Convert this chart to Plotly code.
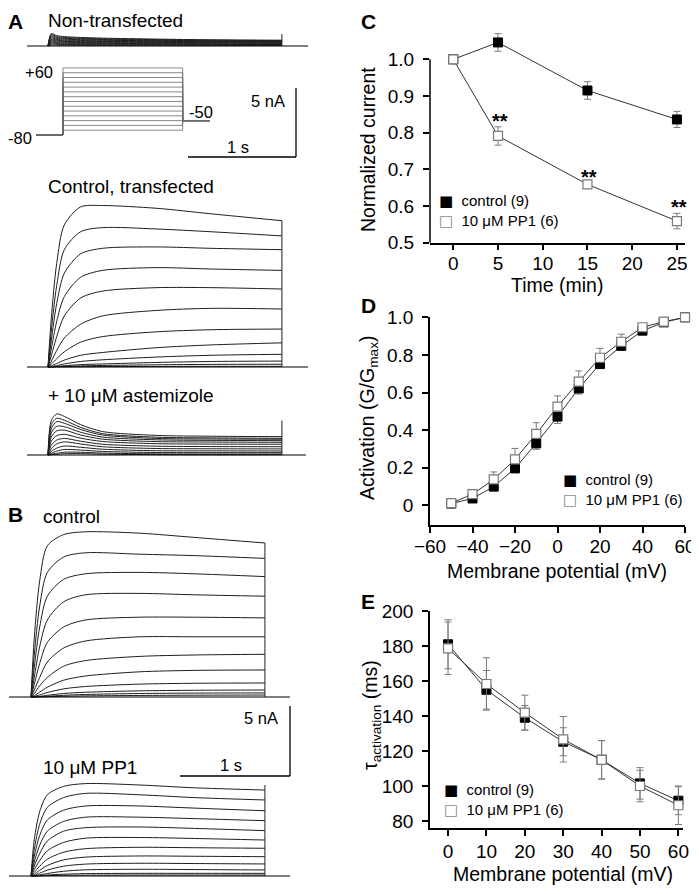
import plotly.graph_objects as go

# the page body adds an 8 px margin, so the figure is 8 px smaller than the
# window and every pixel position below is measured on the window
OFF = 8
W, H = 699 - OFF, 894 - OFF
FONT = "Liberation Sans, Arial, sans-serif"
GLYPH = "DejaVu Sans, sans-serif"

# ── Current traces (nA), sampled at the times of the depolarising step ────────
T_STEP = [0, 0.03, 0.08, 0.15, 0.3, 0.5, 1.0, 1.5, 2.15]

NONTRANSFECTED = [
    [0, 0.90, 0.75, 0.68, 0.62, 0.57, 0.50, 0.45, 0.42],
    [0, 0.82, 0.68, 0.62, 0.56, 0.52, 0.46, 0.42, 0.39],
    [0, 0.74, 0.61, 0.56, 0.51, 0.47, 0.42, 0.38, 0.36],
    [0, 0.66, 0.55, 0.50, 0.46, 0.42, 0.38, 0.35, 0.33],
    [0, 0.58, 0.48, 0.44, 0.40, 0.37, 0.34, 0.31, 0.29],
    [0, 0.50, 0.42, 0.38, 0.35, 0.33, 0.30, 0.28, 0.26],
    [0, 0.43, 0.36, 0.33, 0.30, 0.28, 0.26, 0.24, 0.22],
    [0, 0.36, 0.30, 0.27, 0.25, 0.23, 0.21, 0.20, 0.19],
    [0, 0.29, 0.24, 0.22, 0.20, 0.19, 0.17, 0.16, 0.15],
    [0, 0.22, 0.18, 0.16, 0.15, 0.14, 0.13, 0.12, 0.11],
    [0, 0.15, 0.12, 0.11, 0.10, 0.09, 0.09, 0.08, 0.08],
    [0, 0.08, 0.06, 0.06, 0.05, 0.05, 0.05, 0.04, 0.04],
]

CONTROL_A = [
    [0, 3.5, 7.5, 10.3, 11.6, 11.7, 11.5, 11.1, 10.6],
    [0, 2.6, 5.9, 8.5, 9.8, 10.1, 10.0, 9.8, 9.5],
    [0, 1.9, 4.6, 6.8, 8.2, 8.6, 8.7, 8.6, 8.5],
    [0, 1.3, 3.3, 5.1, 6.5, 7.0, 7.2, 7.1, 7.0],
    [0, 0.8, 2.2, 3.7, 5.0, 5.5, 5.75, 5.75, 5.65],
    [0, 0.4, 1.2, 2.1, 3.1, 3.7, 4.1, 4.25, 4.2],
    [0, 0.2, 0.6, 1.1, 1.8, 2.2, 2.55, 2.7, 2.75],
    [0, 0.08, 0.25, 0.5, 0.85, 1.05, 1.4, 1.6, 1.75],
    [0, 0.03, 0.1, 0.22, 0.4, 0.52, 0.72, 0.85, 0.92],
    [0, 0.01, 0.04, 0.09, 0.17, 0.22, 0.33, 0.4, 0.43],
    [0, 0.0, 0.02, 0.04, 0.08, 0.11, 0.16, 0.19, 0.2],
    [0, 0.0, 0.01, 0.01, 0.02, 0.03, 0.04, 0.05, 0.05],
]

ASTEMIZOLE = [
    [0, 2.5, 2.97, 2.8, 2.2, 1.7, 1.42, 1.36, 1.33],
    [0, 2.2, 2.66, 2.52, 2.0, 1.55, 1.29, 1.24, 1.21],
    [0, 1.9, 2.42, 2.3, 1.85, 1.45, 1.2, 1.16, 1.14],
    [0, 1.6, 2.08, 2.05, 1.65, 1.3, 1.1, 1.06, 1.04],
    [0, 1.3, 1.75, 1.8, 1.45, 1.15, 0.97, 0.94, 0.92],
    [0, 1.0, 1.4, 1.5, 1.22, 0.98, 0.82, 0.79, 0.78],
    [0, 0.7, 1.08, 1.2, 1.0, 0.78, 0.64, 0.61, 0.6],
    [0, 0.45, 0.8, 0.95, 0.8, 0.6, 0.47, 0.45, 0.44],
    [0, 0.25, 0.5, 0.65, 0.56, 0.42, 0.31, 0.3, 0.29],
    [0, 0.12, 0.28, 0.4, 0.36, 0.26, 0.18, 0.17, 0.17],
    [0, 0.05, 0.12, 0.2, 0.2, 0.14, 0.08, 0.07, 0.07],
    [0, 0.02, 0.05, 0.09, 0.1, 0.06, 0.03, 0.02, 0.02],
]

CONTROL_B = [
    [0, 4.2, 8.3, 10.8, 11.6, 11.8, 11.7, 11.4, 11.0],
    [0, 3.0, 6.5, 8.9, 10.0, 10.3, 10.2, 10.1, 9.9],
    [0, 2.1, 5.0, 7.2, 8.4, 8.8, 8.9, 8.8, 8.6],
    [0, 1.4, 3.6, 5.5, 6.8, 7.3, 7.4, 7.3, 7.2],
    [0, 0.9, 2.4, 3.9, 5.0, 5.5, 5.7, 5.7, 5.65],
    [0, 0.5, 1.4, 2.5, 3.5, 4.0, 4.3, 4.3, 4.3],
    [0, 0.25, 0.8, 1.4, 2.2, 2.6, 2.9, 3.0, 3.05],
    [0, 0.1, 0.35, 0.7, 1.2, 1.5, 1.8, 1.9, 1.93],
    [0, 0.04, 0.15, 0.32, 0.58, 0.75, 0.92, 0.98, 1.0],
    [0, 0.01, 0.05, 0.12, 0.25, 0.34, 0.44, 0.48, 0.5],
    [0, 0.0, 0.02, 0.05, 0.12, 0.18, 0.25, 0.28, 0.29],
    [0, 0.0, 0.01, 0.02, 0.05, 0.08, 0.11, 0.13, 0.14],
]

PP1_B = [
    [0, 2.6, 4.6, 5.8, 6.4, 6.6, 6.5, 6.3, 6.14],
    [0, 1.9, 3.7, 4.9, 5.6, 5.9, 5.8, 5.6, 5.43],
    [0, 1.4, 2.9, 4.0, 4.7, 5.0, 5.0, 4.85, 4.66],
    [0, 1.0, 2.2, 3.2, 3.9, 4.2, 4.2, 4.1, 3.95],
    [0, 0.7, 1.6, 2.5, 3.2, 3.45, 3.5, 3.4, 3.24],
    [0, 0.45, 1.1, 1.8, 2.4, 2.7, 2.75, 2.68, 2.57],
    [0, 0.25, 0.7, 1.2, 1.7, 1.95, 2.05, 2.02, 1.98],
    [0, 0.12, 0.4, 0.75, 1.15, 1.35, 1.43, 1.41, 1.38],
    [0, 0.05, 0.2, 0.42, 0.7, 0.85, 0.91, 0.89, 0.86],
    [0, 0.02, 0.08, 0.18, 0.34, 0.44, 0.48, 0.46, 0.43],
    [0, 0.01, 0.03, 0.07, 0.13, 0.17, 0.19, 0.19, 0.19],
    [0, 0.0, 0.01, 0.03, 0.05, 0.06, 0.07, 0.07, 0.07],
]

# height of the end-of-pulse vertical transient per panel (nA)
TAIL_TOP = [0.87, 10.6, 2.5, 11.0, 6.5]

# ── Voltage protocol (mV, s) ──────────────────────────────────────────────────
PROTO_T = [-0.25, 0.0, 1.1, 1.36]
PROTO_HOLD, PROTO_TAIL = -80, -50
PROTO_LEVELS = [-70, -60, -50, -40, -30, -20, -10, 0, 10, 20, 30, 40, 50, 60]

# ── C: normalized current vs time ─────────────────────────────────────────────
C_TIME = [0, 5, 15, 25]
C_CTRL = [1.0, 1.046, 0.915, 0.836]
C_CTRL_ERR = [0, 0.024, 0.024, 0.022]
C_PP1 = [1.0, 0.791, 0.659, 0.559]
C_PP1_ERR = [0, 0.025, 0.005, 0.021]
C_STARS = ["", "**", "**", "**"]

# ── D: activation curve ───────────────────────────────────────────────────────
D_V = [-50, -40, -30, -20, -10, 0, 10, 20, 30, 40, 50, 60]
D_CTRL = [0.01, 0.037, 0.10, 0.197, 0.33, 0.472, 0.622, 0.752, 0.848, 0.929, 0.973, 1.0]
D_CTRL_ERR = [0.005, 0.01, 0.015, 0.023, 0.032, 0.036, 0.03, 0.025, 0.02, 0.01, 0.005, 0]
D_PP1 = [0.012, 0.06, 0.138, 0.245, 0.38, 0.525, 0.658, 0.785, 0.87, 0.947, 0.977, 1.0]
D_PP1_ERR = [0.005, 0.025, 0.04, 0.058, 0.06, 0.057, 0.057, 0.05, 0.04, 0.013, 0.008, 0]

# ── E: activation time constant ───────────────────────────────────────────────
E_V = [0, 10, 20, 30, 40, 50, 60]
E_CTRL = [181, 155, 139, 125.3, 115, 101.5, 91.6]
E_CTRL_ERR = [14, 11, 7, 8, 11, 9, 8]
E_PP1 = [178.7, 158.3, 141.9, 126.7, 114.9, 100, 89]
E_PP1_ERR = [15, 15, 10, 13, 11, 9, 11]

LEGEND_LABELS = ["control (9)", "10 \u03bcM PP1 (6)"]


def px(x):
    return (x - OFF) / W


def py(y):
    return 1 - (y - OFF) / H


def xdom(a, b):
    return [px(a), px(b)]


def ydom(top, bottom):
    return [py(bottom), py(top)]


fig = go.Figure()
layout_axes = {}


def trace_axes(n, xpx, sx, ypx, yref_px, yref_val, sy):
    """Invisible axes whose ranges put t=0 / reference value on given pixels."""
    x0, x1, xs = xpx
    top, bottom = ypx
    sfx = "" if n == 1 else str(n)
    layout_axes["xaxis" + sfx] = dict(
        domain=xdom(x0, x1), range=[(x0 - xs) / sx, (x1 - xs) / sx],
        visible=False, anchor="y" + sfx,
    )
    layout_axes["yaxis" + sfx] = dict(
        domain=ydom(top, bottom),
        range=[yref_val + (yref_px - bottom) / sy, yref_val + (yref_px - top) / sy],
        visible=False, anchor="x" + sfx,
    )
    return "x" + sfx, "y" + sfx


# ── Left column: current families ─────────────────────────────────────────────
PANELS = [
    # rows, axis no, x px (left, right, t=0), px/s, y px (top, bottom, baseline), px/nA
    (NONTRANSFECTED, 1, (27, 308, 48), 108.8, (26, 52, 46), 13.8),
    (CONTROL_A, 3, (27, 308, 48), 108.8, (195, 372, 367), 13.8),
    (ASTEMIZOLE, 4, (27, 306, 48), 108.8, (405, 460, 455), 13.8),
    (CONTROL_B, 5, (9, 290, 31), 108.8, (520, 702, 697), 14.0),
    (PP1_B, 6, (9, 290, 31), 108.8, (775, 881, 876), 14.0),
]

shapes = []
for (rows, n, xpx, sx, ypx, sy), tail in zip(PANELS, TAIL_TOP):
    xa, ya = trace_axes(n, xpx, sx, ypx[:2], ypx[2], 0, sy)
    # holding baseline across the whole panel
    shapes.append(dict(type="line", xref=xa + " domain", x0=0, x1=1,
                       yref=ya, y0=0, y1=0, line=dict(color="black", width=1.2)))
    # vertical transient at the end of the step
    shapes.append(dict(type="line", xref=xa, x0=T_STEP[-1], x1=T_STEP[-1],
                       yref=ya, y0=0, y1=tail, line=dict(color="#222", width=1)))
    for row in rows:
        fig.add_trace(go.Scatter(
            x=T_STEP, y=row, mode="lines", xaxis=xa, yaxis=ya,
            line=dict(color="#1e1e1e", width=1, shape="spline", smoothing=0.8),
            showlegend=False, hoverinfo="skip",
        ))

# voltage protocol
xa, ya = trace_axes(2, (36, 210, 63), 108.8, (60, 140), 135, -80, 0.479)
for v in PROTO_LEVELS:
    fig.add_trace(go.Scatter(
        x=[PROTO_T[0], PROTO_T[1], PROTO_T[1], PROTO_T[2], PROTO_T[2], PROTO_T[3]],
        y=[PROTO_HOLD, PROTO_HOLD, v, v, PROTO_TAIL, PROTO_TAIL],
        mode="lines", xaxis=xa, yaxis=ya,
        line=dict(color="#6a6a6a", width=0.8), showlegend=False, hoverinfo="skip",
    ))

# ── Right column: summary plots ───────────────────────────────────────────────
CTRL_MARK = dict(symbol="square", size=9, color="black", line=dict(color="black", width=1))
PP1_MARK = dict(symbol="square", size=9, color="white", line=dict(color="#7a7a7a", width=1.2))
LINE = dict(color="#333", width=1)


def err(arr, up=True, down=True):
    zeros = [0] * len(arr)
    return dict(type="data", symmetric=False, array=arr if up else zeros,
                arrayminus=arr if down else zeros, color="#7a7a7a",
                thickness=1, width=3.5)


def summary(n, xs, ctrl, ctrl_err, pp1, pp1_err, ctrl_up=True, pp1_down=True):
    xa, ya = "x%d" % n, "y%d" % n
    fig.add_trace(go.Scatter(x=xs, y=ctrl, mode="lines+markers", xaxis=xa, yaxis=ya,
                             line=LINE, marker=CTRL_MARK, cliponaxis=False,
                             error_y=err(ctrl_err, up=ctrl_up), showlegend=False,
                             name=LEGEND_LABELS[0]))
    fig.add_trace(go.Scatter(x=xs, y=pp1, mode="lines+markers", xaxis=xa, yaxis=ya,
                             line=LINE, marker=PP1_MARK, cliponaxis=False,
                             error_y=err(pp1_err, down=pp1_down), showlegend=False,
                             name=LEGEND_LABELS[1]))


summary(7, C_TIME, C_CTRL, C_CTRL_ERR, C_PP1, C_PP1_ERR)
summary(8, D_V, D_CTRL, D_CTRL_ERR, D_PP1, D_PP1_ERR, ctrl_up=False, pp1_down=False)
summary(9, E_V, E_CTRL, E_CTRL_ERR, E_PP1, E_PP1_ERR)

AX = dict(showline=True, linecolor="black", linewidth=1.5, ticks="outside",
          ticklen=6, tickwidth=1.5, tickcolor="black", showgrid=False,
          zeroline=False, tickfont=dict(family=FONT, size=19, color="black"))
XAX = dict(AX, ticklabelstandoff=-3)
YAX = dict(AX, ticklabelstandoff=5)

# C's y range reaches a little above 1.0 so the 5-min control point is drawn;
# the visible y axis line stops at 1.0 (drawn as a shape below)
layout_axes["xaxis7"] = dict(XAX, domain=xdom(430, 685), range=[-2.6, 25.9], anchor="y7",
                             tickvals=[0, 5, 10, 15, 20, 25])
layout_axes["yaxis7"] = dict(YAX, domain=ydom(31.8, 242.7), range=[0.5, 1.075], anchor="x7",
                             tickvals=[0.5, 0.6, 0.7, 0.8, 0.9, 1.0], tickformat=".1f",
                             showline=False)
shapes.append(dict(type="line", xref="x7 domain", x0=0, x1=0, yref="y7", y0=0.5, y1=1.0,
                   line=dict(color="black", width=1.5)))
layout_axes["xaxis8"] = dict(XAX, domain=xdom(430, 685), range=[-60, 60], anchor="y8",
                             tickvals=[-60, -40, -20, 0, 20, 40, 60])
layout_axes["yaxis8"] = dict(YAX, domain=ydom(317.3, 525), range=[-0.104, 1.0], anchor="x8",
                             tickvals=[0, 0.2, 0.4, 0.6, 0.8, 1.0],
                             ticktext=["0", "0.2", "0.4", "0.6", "0.8", "1.0"])
layout_axes["xaxis9"] = dict(XAX, domain=xdom(430, 683), range=[-4.7, 61.2], anchor="y9",
                             tickvals=[0, 10, 20, 30, 40, 50, 60], ticklabelstandoff=-1)
layout_axes["yaxis9"] = dict(YAX, domain=ydom(611, 828), range=[76, 200], anchor="x9",
                             tickvals=[80, 100, 120, 140, 160, 180, 200])

# significance stars above the PP1 points in C
annotations = []
for t, v, e, s in zip(C_TIME, C_PP1, C_PP1_ERR, C_STARS):
    if s:
        annotations.append(dict(x=t, y=v + e, xref="x7", yref="y7", text="<b>%s</b>" % s,
                                showarrow=False, yanchor="middle", yshift=6, xshift=2,
                                font=dict(family=FONT, size=20, color="black")))


def note(text, x, y, size=19, anchor="left", angle=0, bold=False, family=FONT, color="black"):
    if bold:
        text = "<b>%s</b>" % text
    annotations.append(dict(text=text, x=px(x), y=py(y), xref="paper", yref="paper",
                            xanchor=anchor, yanchor="middle", showarrow=False,
                            textangle=angle, align="left",
                            font=dict(family=family, size=size, color=color)))


# panel letters
for letter, x, y in [("A", 15, 21), ("B", 15, 514), ("C", 368, 21), ("D", 368, 305), ("E", 368, 601)]:
    note(letter, x, y, size=21, anchor="center", bold=True)

# left column labels
note("Non-transfected", 46, 20)
note("Control, transfected", 46, 186)
note("+ 10 \u03bcM astemizole", 46, 396)
note("control", 41, 516)
note("10 \u03bcM PP1", 41, 767)
note("+60", 39, 72, size=16.5, anchor="center")
note("-80", 20, 138, size=16.5, anchor="center")
note("-50", 201, 112, size=16.5, anchor="center")
note("5 nA", 268, 101, size=16.5, anchor="center")
note("1 s", 238, 147, size=16.5, anchor="center")
note("5 nA", 261, 718, size=16.5, anchor="center")
note("1 s", 231, 765, size=16.5, anchor="center")

# axis titles of the summary plots
note("Normalized current", 368, 150, size=19.5, anchor="center", angle=-90)
note("Time (min)", 557, 285, size=19.5, anchor="center")
note("Activation (G/G<sub>max</sub>)", 368, 418, size=19.5, anchor="center", angle=-90)
note("Membrane potential (mV)", 557, 571, size=19.5, anchor="center")
note("\u03c4<sub>activation</sub> (ms)", 371, 715, size=19.5, anchor="center", angle=-90)
note("Membrane potential (mV)", 563, 874, size=19.5, anchor="center")

# legends: square glyph + label, two rows in one text block
SYMBOLS = [("\u25a0", "black"), ("\u25a1", "#8a8a8a")]
legend_text = "<br>".join(
    "<span style='font-family:%s;color:%s'>%s</span>\u00a0\u00a0%s" % (GLYPH, c, g, lab)
    for (g, c), lab in zip(SYMBOLS, LEGEND_LABELS)
)
for x, y in [(437, 211), (561, 490.5), (442, 799.5)]:
    note(legend_text, x, y, size=15)


# scale bars (L-shaped, paper coordinates)
def bar(x0, y0, x1, y1):
    shapes.append(dict(type="line", xref="paper", yref="paper",
                       x0=px(x0), x1=px(x1), y0=py(y0), y1=py(y1),
                       line=dict(color="black", width=1.3)))


bar(296, 88, 296, 157)
bar(188, 157, 296, 157)
bar(290, 706, 290, 776)
bar(180, 776, 290, 776)

fig.update_layout(
    width=W, height=H, autosize=False,
    margin=dict(l=0, r=0, t=0, b=0, autoexpand=False),
    paper_bgcolor="white", plot_bgcolor="rgba(0,0,0,0)",
    shapes=shapes, annotations=annotations,
    showlegend=False,
    **layout_axes,
)

fig.write_html("out.html")
